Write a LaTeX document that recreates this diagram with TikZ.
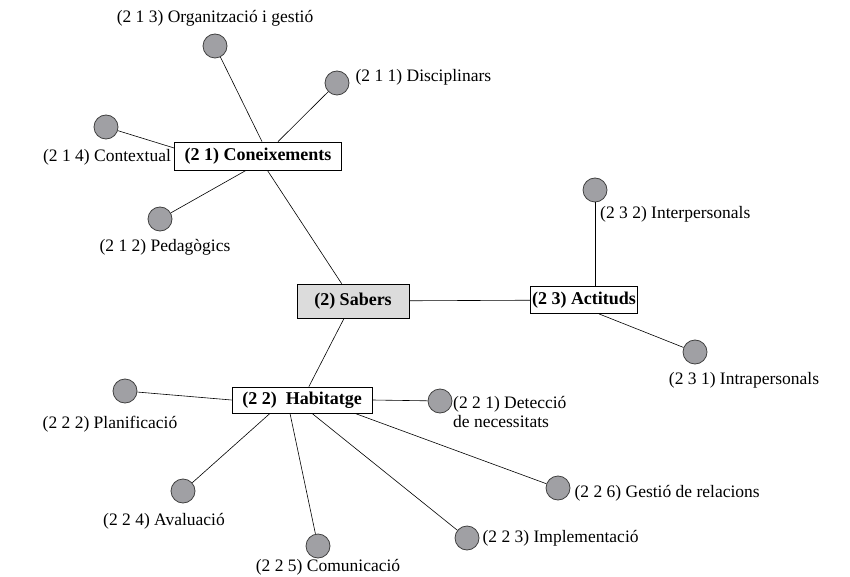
\documentclass[tikz,border=0pt]{standalone}
\usepackage{fontspec}
\setmainfont{Liberation Serif}
\usetikzlibrary{positioning}

\definecolor{leafgray}{RGB}{160,160,164}
\definecolor{rootgray}{RGB}{220,220,220}

\newcommand{\mapsize}{\fontsize{17.5}{19}\selectfont}
\newcommand{\boxsize}{\fontsize{18}{20}\selectfont}

\tikzset{
  topic/.style={draw, line width=0.8pt, inner xsep=1.5pt, inner ysep=3pt, font=\boxsize\bfseries},
  rootbox/.style={topic, fill=rootgray, minimum width=112pt, minimum height=34pt},
  leaf/.style={circle, draw=black!75, line width=0.8pt, fill=leafgray, minimum size=24pt, inner sep=0pt},
  tag/.style={inner sep=1pt, align=left, font=\mapsize},
  link/.style={line width=0.6pt}
}

\begin{document}
\begin{tikzpicture}[x=1pt, y=-1pt]

    % =================================================================
    % 1. BOUNDING BOX AND MAIN NODES
    % =================================================================
    \useasboundingbox (0,0) rectangle (850,577);

    \node[rootbox] (sab) at (353,301) {(2) Sabers};
    \node[topic, minimum width=167pt, minimum height=28pt] (con) at (258,156) {(2 1) Coneixements};
    \node[topic, minimum width=102pt, minimum height=27pt] (act) at (584,300) {(2 3) Actituds};
    \node[topic, minimum width=140pt, minimum height=26pt] (hab) at (302,400) {(2 2)\ \ Habitatge};

    % =================================================================
    % 2. LEAVES
    % =================================================================
    \node[leaf] (c213) at (215,46) {};
    \node[leaf] (c211) at (337,83) {};
    \node[leaf] (c214) at (106,127) {};
    \node[leaf] (c212) at (160,219) {};
    \node[leaf] (c232) at (595,190) {};
    \node[leaf] (c231) at (695,352) {};
    \node[leaf] (c222) at (125,391) {};
    \node[leaf] (c221) at (440,401) {};
    \node[leaf] (c226) at (558,488) {};
    \node[leaf] (c224) at (183,491) {};
    \node[leaf] (c225) at (318,546) {};
    \node[leaf] (c223) at (467,538) {};

    % =================================================================
    % 3. LABELS
    % =================================================================
    \node[tag] at (215,18) {(2 1 3) Organització i gestió};
    \node[tag, right=5pt of c211, yshift=6pt] {(2 1 1) Disciplinars};
    \node[tag, left=2pt of con, yshift=-1pt] {(2 1 4) Contextual};
    \node[tag] at (165,247) {(2 1 2) Pedagògics};
    \node[tag, anchor=west] at (599,214) {(2 3 2) Interpersonals};
    \node[tag] at (744,380) {(2 3 1) Intrapersonals};
    \node[tag] at (110,424) {(2 2 2) Planificació};
    \node[tag, anchor=north west, align=left] at (452,395)
      {(2 2 1) Detecció\\de necessitats};
    \node[tag, right=3pt of c226, yshift=-5pt] {(2 2 6) Gestió de relacions};
    \node[tag] at (164,521) {(2 2 4) Avaluació};
    \node[tag] at (328,567) {(2 2 5) Comunicació};
    \node[tag, right=2pt of c223] {(2 2 3) Implementació};

    % =================================================================
    % 4. CONNECTORS
    % =================================================================
    \draw[link] (sab) -- (con);
    \draw[link] (sab) -- (act);
    \draw[link] (sab) -- (hab);

    \draw[link] (c213) -- ([xshift=4pt]con.north);
    \draw[link] (c211) -- ([xshift=20pt]con.north);
    \draw[link] (c214) -- ([yshift=8pt]con.west);
    \draw[link] (c212) -- ([xshift=-12pt]con.south);

    \draw[link] (c232) -- ([xshift=11pt]act.north);
    \draw[link] (c231) -- ([xshift=15pt]act.south);

    \draw[link] (c222) -- (hab.west);
    \draw[link] (c221) -- (hab.east);
    \draw[link] (c226) -- ([xshift=53pt]hab.south);
    \draw[link] (c224) -- ([xshift=-32pt]hab.south);
    \draw[link] (c225) -- ([xshift=-12pt]hab.south);
    \draw[link] (c223) -- ([xshift=10pt]hab.south);

\end{tikzpicture}
\end{document}
